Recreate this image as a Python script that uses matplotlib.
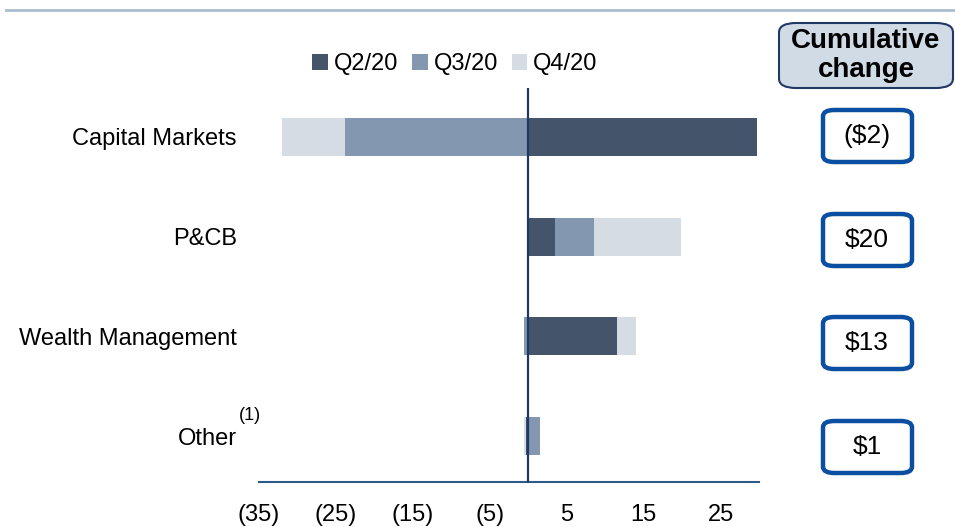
import matplotlib
matplotlib.use('Agg')
from matplotlib import pyplot as plt
from matplotlib.patches import FancyBboxPatch
from matplotlib.lines import Line2D
import numpy as np

plt.rcParams['font.family'] = ['Liberation Sans', 'DejaVu Sans']

categories = ['Capital Markets', 'P&CB', 'Wealth Management', 'Other']
series_names = ['Q2/20', 'Q3/20', 'Q4/20']
q2 = [29.8, 3.5, 11.6, -0.3]
q3 = [-23.8, 5.1, -0.6, 1.5]
q4 = [-8.2, 11.2, 2.4, -0.3]
cumulative = ['($2)', '$20', '$13', '$1']
x_ticks = [-35, -25, -15, -5, 5, 15, 25]
x_tick_labels = ['(35)', '(25)', '(15)', '(5)', '5', '15', '25']

colors = ['#44546A', '#8497B0', '#D6DCE4']

fig = plt.figure(figsize=(9.55, 5.27), dpi=100)
ax = fig.add_axes([259 / 955, 1 - 482 / 527, 500 / 955, (482 - 88) / 527])

y = np.arange(len(categories))
pos_base = np.zeros(len(categories))
neg_base = np.zeros(len(categories))
for name, vals, c in zip(series_names, [q2, q3, q4], colors):
    vals = np.array(vals, dtype=float)
    left = np.where(vals >= 0, pos_base, neg_base)
    ax.barh(y, vals, left=left, height=0.38, color=c, label=name, zorder=2)
    pos_base = pos_base + np.clip(vals, 0, None)
    neg_base = neg_base + np.clip(vals, None, 0)

ax.axvline(0, color='#1F3864', linewidth=1.6, zorder=3)

ax.set_xlim(-35, 30)
ax.set_ylim(3.46, -0.49)
ax.set_xticks(x_ticks)
ax.set_xticklabels(x_tick_labels, fontsize=17)
ax.set_yticks(y)
ax.set_yticklabels(categories, fontsize=17)
ax.tick_params(axis='x', length=0, pad=16)
ax.tick_params(axis='y', length=0, pad=16)
for side in ['top', 'right', 'left']:
    ax.spines[side].set_visible(False)
ax.spines['bottom'].set_color('#2E5A88')
ax.spines['bottom'].set_linewidth(1.5)

fig.text(239 / 955, 1 - 416 / 527, '(1)', fontsize=13, ha='left', va='center')

ax.legend(loc='center', bbox_to_anchor=(455 / 955, 1 - 64 / 527),
          bbox_transform=fig.transFigure, ncol=3, frameon=False, fontsize=17,
          handlelength=0.65, handleheight=0.65, handletextpad=0.25,
          columnspacing=0.6)

# top rule
fig.add_artist(Line2D([6 / 955, 1], [1 - 10 / 527, 1 - 10 / 527],
                      color='#A9BCD0', linewidth=2))

# header box
hdr = FancyBboxPatch((779 / 955, 1 - 88 / 527), 174 / 955, 65 / 527,
                     boxstyle='round,pad=0,rounding_size=0.018',
                     transform=fig.transFigure, facecolor='#D0DBE6',
                     edgecolor='#1F3864', linewidth=1.5)
fig.add_artist(hdr)
fig.text(866 / 955, 1 - 56 / 527, 'Cumulative\nchange', fontsize=20,
         fontweight='bold', ha='center', va='center', linespacing=1.15)

box_centers = [136, 240, 343, 447]
for label, yc in zip(cumulative, box_centers):
    box = FancyBboxPatch((823 / 955, 1 - (yc + 26) / 527), 89 / 955, 52 / 527,
                         boxstyle='round,pad=0,rounding_size=0.012',
                         transform=fig.transFigure, facecolor='white',
                         edgecolor='#0B4EA2', linewidth=3.2)
    fig.add_artist(box)
    fig.text(867 / 955, 1 - yc / 527, label, fontsize=19, ha='center',
             va='center')

fig.savefig('out.png', dpi=100)
